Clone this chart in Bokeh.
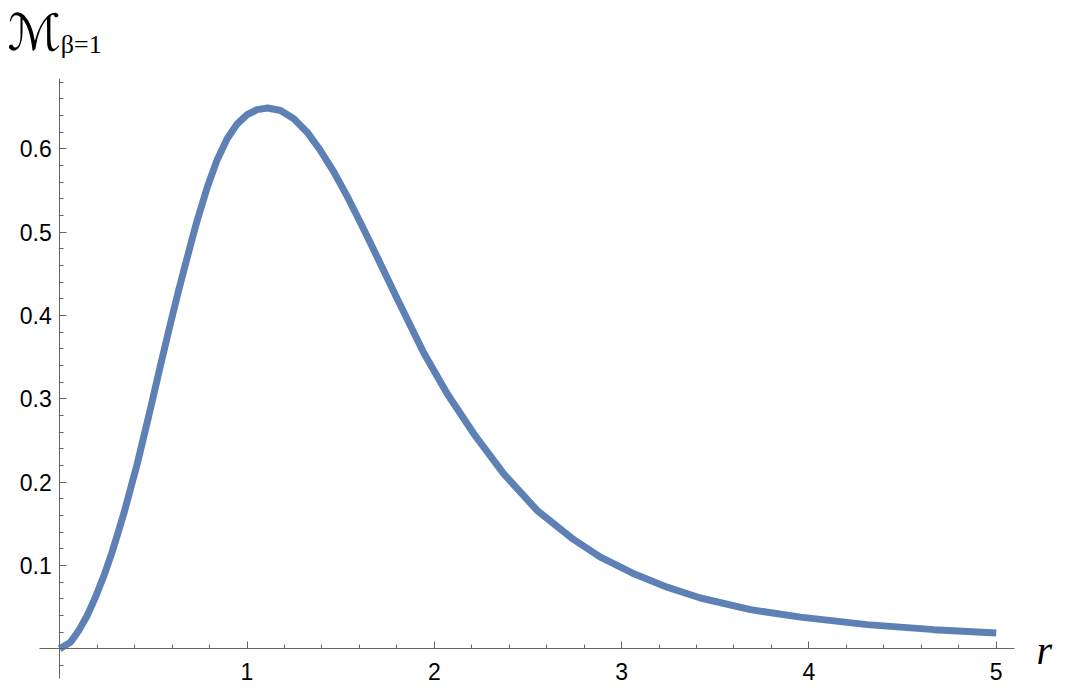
from bokeh.plotting import figure
from bokeh.models import Range1d, SingleIntervalTicker, Label
from bokeh.embed import file_html
from bokeh.resources import INLINE

# data
r_vals = [0, 0.058, 0.102, 0.147, 0.191, 0.235, 0.280, 0.342, 0.414, 0.476, 0.538,
          0.592, 0.636, 0.707, 0.734, 0.788, 0.841, 0.894, 0.948, 1.001, 1.054,
          1.111, 1.179, 1.250, 1.321, 1.392, 1.464, 1.535, 1.600, 1.659, 1.802,
          1.944, 2.069, 2.211, 2.371, 2.549, 2.745, 2.887, 3.056, 3.243, 3.421,
          3.688, 3.955, 4.311, 4.667, 5.0]
m_vals = [0, 0.008, 0.022, 0.040, 0.062, 0.087, 0.116, 0.162, 0.222, 0.280, 0.340,
          0.391, 0.431, 0.492, 0.514, 0.554, 0.587, 0.612, 0.630, 0.641, 0.647,
          0.649, 0.646, 0.636, 0.620, 0.598, 0.572, 0.543, 0.514, 0.487, 0.420,
          0.355, 0.306, 0.258, 0.210, 0.166, 0.131, 0.110, 0.091, 0.074, 0.061,
          0.047, 0.038, 0.029, 0.023, 0.019]
x_ticks_interval = 1
y_ticks_interval = 0.1
y_label_main = "ℳ"
y_label_sub = "β=1"
x_label = "r"

AX = "#666666"
W, H = 1069, 688
x0 = -59.2 / 187.3
y1 = 648.3 / 833.3

p = figure(width=W, height=H,
           x_range=Range1d(x0, x0 + W / 187.3), y_range=Range1d(y1 - H / 833.3, y1),
           output_backend="svg", toolbar_location=None,
           min_border_left=0, min_border_right=0, min_border_top=0, min_border_bottom=0)
p.outline_line_color = None
p.grid.visible = False
p.background_fill_color = "white"
p.border_fill_color = "white"

p.line(r_vals, m_vals, line_color="#5e81b5", line_width=7)

xa = p.xaxis[0]
xa.fixed_location = 0
xa.bounds = (-0.108, 5.098)
xa.ticker = SingleIntervalTicker(interval=x_ticks_interval, num_minor_ticks=5)
xa.major_label_overrides = {0: ""}
ya = p.yaxis[0]
ya.fixed_location = 0
ya.bounds = (-0.0356, 0.6844)
ya.ticker = SingleIntervalTicker(interval=y_ticks_interval, num_minor_ticks=5)
ya.major_label_overrides = {0: ""}
for ax in (xa, ya):
    ax.axis_line_color = AX
    ax.axis_line_width = 1
    ax.major_tick_line_color = AX
    ax.minor_tick_line_color = AX
    ax.major_tick_in = 7
    ax.major_tick_out = 0
    ax.minor_tick_in = 4
    ax.minor_tick_out = 0
    ax.major_label_text_font = "Liberation Sans"
    ax.major_label_text_font_size = "23px"
    ax.major_label_text_color = "black"
xa.major_label_standoff = 14
ya.major_label_standoff = 8

p.add_layout(Label(x=-0.279, y=0.739, text=y_label_main, text_font="DejaVu Sans",
                   text_font_size="50px", text_color="black",
                   text_baseline="alphabetic"))
p.add_layout(Label(x=0.006, y=0.725, text=y_label_sub, text_font="Liberation Serif",
                   text_font_size="26px", text_color="black", text_baseline="alphabetic"))
p.add_layout(Label(x=5.215, y=-0.002, text=x_label, text_font="Liberation Serif",
                   text_font_style="italic", text_font_size="40px", text_color="black",
                   text_baseline="alphabetic"))

open("out.html", "w").write(file_html(p, INLINE))
